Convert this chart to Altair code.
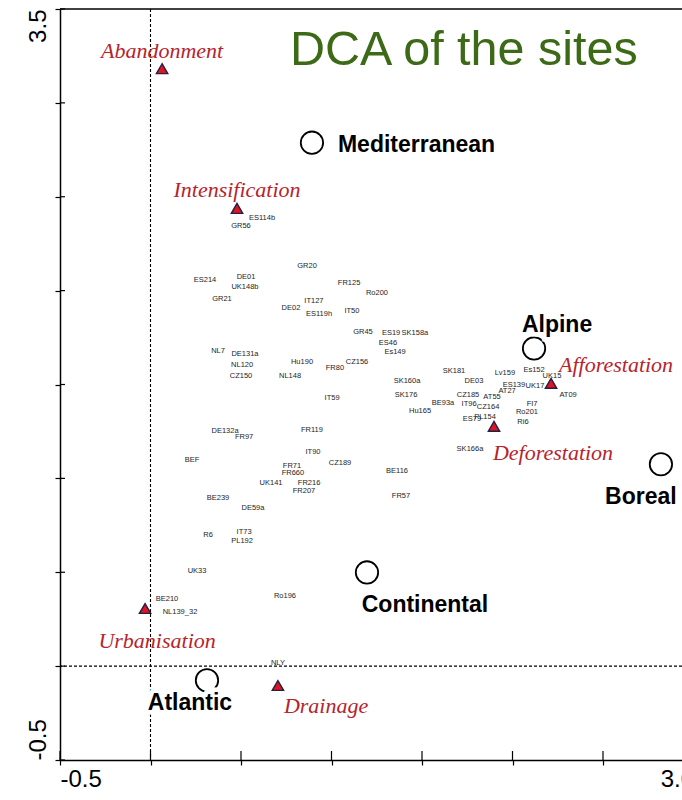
import altair as alt
import pandas as pd

# --- DCA site scores (axis 1, axis 2) -------------------------------------
site_names = [
    "ES114b", "GR56", "GR20", "ES214", "DE01", "UK148b", "FR125", "Ro200",
    "GR21", "IT127", "DE02", "ES119h", "IT50", "GR45", "ES19", "SK158a",
    "ES46", "Es149", "NL7", "DE131a", "NL120", "CZ150", "Hu190", "FR80",
    "CZ156", "NL148", "SK181", "Lv159", "Es152", "SK160a", "DE03", "ES139",
    "UK17", "UK15", "AT27", "AT09", "SK176", "CZ185", "AT55", "BE93a",
    "IT96", "CZ164", "FI7", "Hu165", "Ro201", "ES79", "PL154", "Ri6",
    "SK166a", "IT59", "DE132a", "FR97", "FR119", "BEF", "IT90", "CZ189",
    "FR71", "FR660", "BE116", "UK141", "FR216", "FR207", "FR57", "BE239",
    "DE59a", "R6", "IT73", "PL192", "UK33", "BE210", "NL139_32", "Ro196",
    "NLY",
]
site_axis1 = [
    0.616, 0.500, 0.865, 0.301, 0.528, 0.522, 1.097, 1.251,
    0.395, 0.903, 0.776, 0.931, 1.113, 1.174, 1.329, 1.461,
    1.312, 1.351, 0.373, 0.522, 0.506, 0.500, 0.837, 1.019,
    1.141, 0.771, 1.677, 1.958, 2.119, 1.417, 1.787, 2.008,
    2.124, 2.218, 1.970, 2.307, 1.412, 1.754, 1.887, 1.616,
    1.760, 1.865, 2.108, 1.489, 2.080, 1.776, 1.848, 2.058,
    1.765, 1.003, 0.412, 0.517, 0.892, 0.229, 0.898, 1.047,
    0.782, 0.787, 1.362, 0.666, 0.876, 0.848, 1.384, 0.373,
    0.566, 0.318, 0.517, 0.506, 0.257, 0.091, 0.163, 0.743,
    0.704,
]
site_axis2 = [
    2.389, 2.342, 2.129, 2.054, 2.070, 2.017, 2.038, 1.985,
    1.953, 1.943, 1.905, 1.873, 1.889, 1.777, 1.772, 1.772,
    1.719, 1.671, 1.676, 1.660, 1.602, 1.543, 1.618, 1.586,
    1.618, 1.543, 1.570, 1.559, 1.575, 1.516, 1.516, 1.500,
    1.490, 1.543, 1.463, 1.442, 1.442, 1.442, 1.431, 1.399,
    1.394, 1.378, 1.394, 1.357, 1.351, 1.314, 1.325, 1.298,
    1.154, 1.426, 1.250, 1.218, 1.255, 1.096, 1.138, 1.080,
    1.064, 1.026, 1.037, 0.978, 0.973, 0.931, 0.904, 0.893,
    0.840, 0.696, 0.717, 0.664, 0.504, 0.355, 0.286, 0.371,
    0.014,
]

# --- biogeographic region centroids ---------------------------------------
region_names = ["Mediterranean", "Alpine", "Boreal", "Continental", "Atlantic"]
region_axis1 = [0.892, 2.119, 2.820, 1.196, 0.312]
region_axis2 = [2.788, 1.692, 1.075, 0.499, -0.076]

# --- land-use change drivers (passive) ------------------------------------
driver_names = ["Abandonment", "Intensification", "Afforestation",
                "Deforestation", "Urbanisation", "Drainage"]
driver_axis1 = [0.064, 0.478, 2.213, 1.898, -0.030, 0.704]
driver_axis2 = [3.182, 2.438, 1.506, 1.277, 0.307, -0.103]

# --- axes -----------------------------------------------------------------
x_ticks = [-0.5, 0.0, 0.5, 1.0, 1.5, 2.0, 2.5, 3.0]
y_ticks = [-0.5, 0.0, 0.5, 1.0, 1.5, 2.0, 2.5, 3.0, 3.5]
x_tick_labels = {-0.5: "-0.5", 3.0: "3.0"}
y_tick_labels = {-0.5: "-0.5", 3.5: "3.5"}
title_text = "DCA of the sites"

sites = pd.DataFrame({"site": site_names, "ax1": site_axis1, "ax2": site_axis2})
regions = pd.DataFrame({"region": region_names, "ax1": region_axis1, "ax2": region_axis2})
drivers = pd.DataFrame({"driver": driver_names, "ax1": driver_axis1, "ax2": driver_axis2})

# layout
W, H = 622, 751
X_RANGE_END = 633.5   # the 3.0 end of axis 1 lies just past the right edge
FONT = "Liberation Sans"
SERIF = "Liberation Serif"
RED = "#b8232b"


def label_expr(mapping):
    parts = [f"datum.value == {k} ? '{v}'" for k, v in mapping.items()]
    return " : ".join(parts) + " : ''"


x_scale = alt.Scale(domain=[-0.5, 3.0], range=[0, X_RANGE_END], nice=False, zero=False)
y_scale = alt.Scale(domain=[-0.5, 3.5], nice=False, zero=False)

x_axis = alt.Axis(
    values=x_ticks, labelExpr=label_expr(x_tick_labels), title=None, grid=False,
    domainColor="black", domainWidth=1.5, tickColor="black", tickWidth=1.2,
    tickSize=5, labelFont=FONT, labelFontSize=24, labelColor="black",
    labelFlush=True, labelPadding=2, labelOverlap=False,
)
y_axis = alt.Axis(
    values=y_ticks, labelExpr=label_expr(y_tick_labels), title=None, grid=False,
    domainColor="black", domainWidth=1.5, tickColor="black", tickWidth=1.2,
    tickSize=5, labelFont=FONT, labelFontSize=24, labelColor="black",
    labelAngle=270, labelBaseline="bottom", labelPadding=5, labelOverlap=False,
    labelAlign={"condition": {"test": "datum.value == 3.5", "value": "right"},
                "value": "left"},
)

X = alt.X("ax1:Q", scale=x_scale, axis=x_axis)
Y = alt.Y("ax2:Q", scale=y_scale, axis=y_axis)
Xs = alt.X("ax1:Q", scale=x_scale)
Ys = alt.Y("ax2:Q", scale=y_scale)

one = pd.DataFrame({"v": [0.0]})

# dashed zero lines
zero_v = alt.Chart(one).mark_rule(color="black", strokeWidth=1.1, strokeDash=[3, 2]).encode(
    x=alt.X("v:Q", scale=x_scale))
zero_h = alt.Chart(one).mark_rule(color="black", strokeWidth=1.1, strokeDash=[3, 2]).encode(
    y=alt.Y("v:Q", scale=y_scale))

# inward half of the crossing ticks
xt = pd.DataFrame({"t": x_ticks})
yt = pd.DataFrame({"t": y_ticks})
x_inner = alt.Chart(xt).mark_rule(color="black", strokeWidth=1.2).encode(
    x=alt.X("t:Q", scale=x_scale), y=alt.value(H - 9), y2=alt.value(H))
y_inner = alt.Chart(yt).mark_rule(color="black", strokeWidth=1.2).encode(
    y=alt.Y("t:Q", scale=y_scale), x=alt.value(0), x2=alt.value(5))

# top frame line
top_line = alt.Chart(one).mark_rule(color="black", strokeWidth=1.5).encode(
    y=alt.value(0), x=alt.value(0), x2=alt.value(W))

# site labels
site_text = alt.Chart(sites).mark_text(
    font=FONT, fontSize=7.5, color="#1e1e1e").encode(x=X, y=Y, text="site:N")

# region centroids
region_pts = alt.Chart(regions).mark_point(
    shape="circle", size=500, filled=True, fill="white", stroke="black",
    strokeWidth=1.8, opacity=1).encode(x=Xs, y=Ys)

# driver triangles
driver_pts = alt.Chart(drivers).mark_point(
    shape="triangle-up", size=130, filled=True, fill="#e0141c", stroke="#22204a",
    strokeWidth=1.4, opacity=1).encode(x=Xs, y=Ys)

region_offsets = {
    "Mediterranean": ("left", 26, 2),
    "Alpine": ("center", 23, -23),
    "Boreal": ("center", -20, 33),
    "Continental": ("center", 58, 33),
    "Atlantic": ("center", -17, 23),
}
driver_offsets = {
    "Abandonment": ("center", 0, -18),
    "Intensification": ("center", 0, -18),
    "Afforestation": ("left", 8, -18),
    "Deforestation": ("center", 59, 27),
    "Urbanisation": ("center", 12, 33),
    "Drainage": ("left", 6, 21),
}

region_halo, region_lbl = [], []
for name, (al, dx, dy) in region_offsets.items():
    base = alt.Chart(regions).transform_filter(alt.datum.region == name)
    region_halo.append(base.mark_text(
        font=FONT, fontSize=23, fontWeight="bold", align=al, dx=dx, dy=dy,
        stroke="white", strokeWidth=9, color="white").encode(x=Xs, y=Ys, text="region:N"))
    region_lbl.append(base.mark_text(
        font=FONT, fontSize=23, fontWeight="bold", align=al, dx=dx, dy=dy,
        color="black").encode(x=Xs, y=Ys, text="region:N"))

driver_lbl = []
for name, (al, dx, dy) in driver_offsets.items():
    base = alt.Chart(drivers).transform_filter(alt.datum.driver == name)
    driver_lbl.append(base.mark_text(
        font=SERIF, fontSize=22, fontStyle="italic", align=al, dx=dx, dy=dy,
        color=RED).encode(x=Xs, y=Ys, text="driver:N"))

title = alt.Chart(pd.DataFrame({"t": [title_text]})).mark_text(
    font=FONT, fontSize=48.5, color="#3c6a17", align="left", baseline="alphabetic"
).encode(x=alt.value(230), y=alt.value(56), text="t:N")

chart = alt.layer(
    zero_v, zero_h, x_inner, y_inner, top_line, site_text,
    region_pts, driver_pts, *region_halo, *region_lbl, *driver_lbl, title,
).properties(
    width=W, height=H,
    autosize=alt.AutoSizeParams(type="none"),
    padding={"left": 60, "top": 9, "right": 0, "bottom": 40},
    background="white",
).configure_view(strokeWidth=0)

chart.save("out.html", embed_options={"renderer": "svg", "actions": False})
